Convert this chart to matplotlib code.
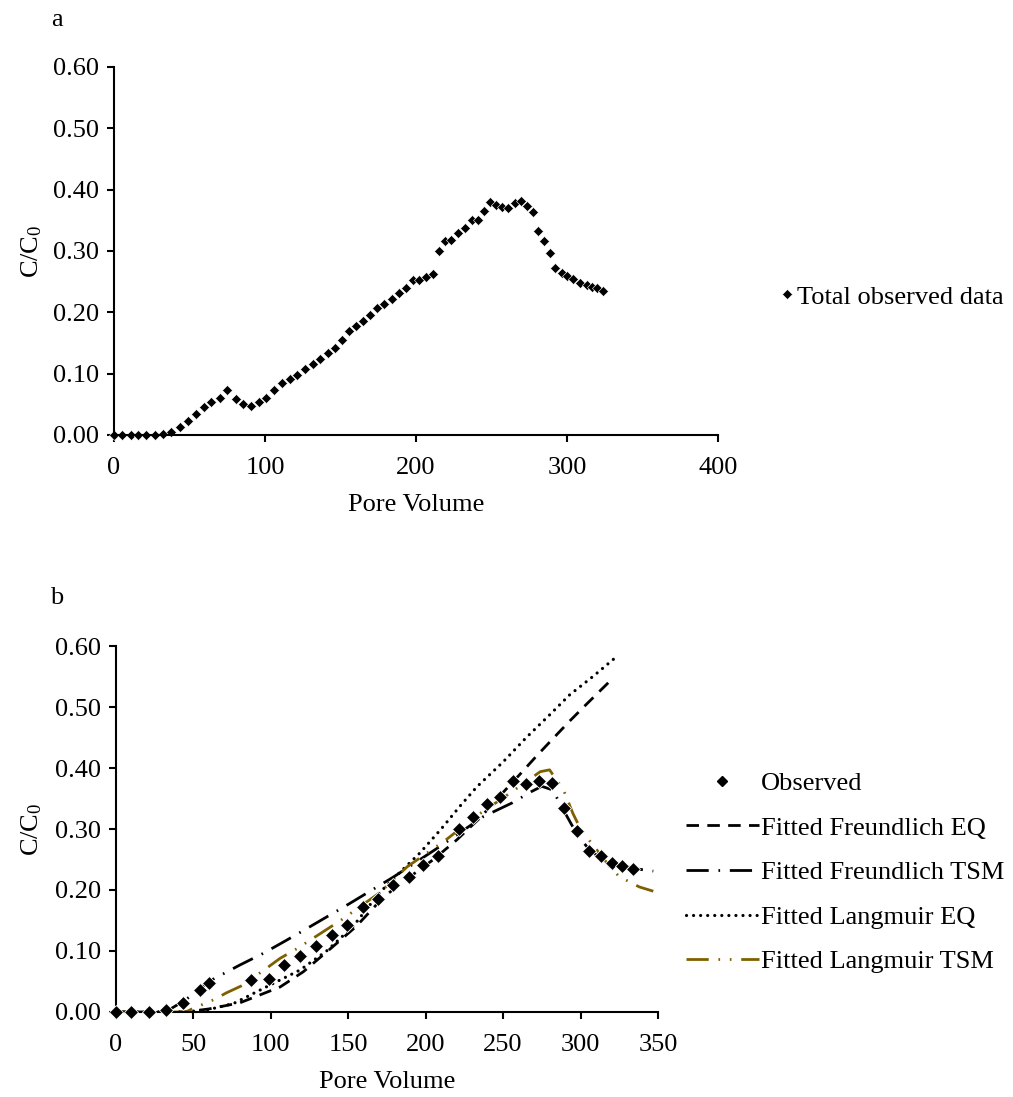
import matplotlib
matplotlib.use("Agg")
import matplotlib.pyplot as plt
from matplotlib.lines import Line2D

plt.rcParams['font.family'] = ['Liberation Serif', 'DejaVu Serif']
plt.rcParams['mathtext.fontset'] = 'custom'
plt.rcParams['mathtext.rm'] = 'Liberation Serif'
plt.rcParams['mathtext.it'] = 'Liberation Serif:italic'

# total observed breakthrough data (panel a)
pv_total = [0, 5.5, 11, 16, 21.5, 27, 32.5, 38, 43.5, 49, 54, 59.5, 64.5, 70, 75,
            80.5, 85.5, 90.5, 96, 101, 106, 111.5, 116.5, 121.5, 126.5, 131.5, 136.5,
            141.5, 146.5, 151, 155.5, 160.5, 165, 169.5, 174, 179, 184, 189, 193.5,
            198, 202, 206.5, 211, 215.5, 219.5, 223.5, 228, 232.5, 237, 241, 245, 249,
            253, 257, 261, 265.5, 269.5, 273.5, 277.5, 281, 285, 289, 292, 296.5, 300,
            304, 308.5, 313, 316.5, 320, 324]
cc_total = [0, 0, 0, 0, 0, 0, 0.001, 0.005, 0.0125, 0.023, 0.034, 0.045, 0.054, 0.061,
            0.074, 0.058, 0.051, 0.048, 0.053, 0.061, 0.074, 0.085, 0.091, 0.098, 0.107,
            0.115, 0.124, 0.133, 0.142, 0.155, 0.170, 0.177, 0.186, 0.195, 0.207, 0.214,
            0.221, 0.232, 0.240, 0.253, 0.253, 0.258, 0.262, 0.300, 0.317, 0.318, 0.329,
            0.338, 0.350, 0.350, 0.365, 0.380, 0.375, 0.371, 0.370, 0.378, 0.382, 0.373,
            0.364, 0.333, 0.316, 0.296, 0.273, 0.264, 0.259, 0.254, 0.247, 0.245, 0.242,
            0.239, 0.234]

# observed data used for fitting (panel b)
pv_obs = [0, 10, 21, 32, 43.5, 54.5, 60, 87.5, 98.5, 108.5, 119, 129, 139.5, 149.5,
          159.5, 169.5, 179, 189, 198.5, 208, 221.5, 230.5, 239.5, 248, 256.5, 265,
          273.5, 281.5, 289.5, 298, 305.5, 313, 320.5, 327, 334]
cc_obs = [0, 0, 0, 0.004, 0.014, 0.036, 0.047, 0.052, 0.054, 0.077, 0.092, 0.108, 0.126,
          0.143, 0.172, 0.186, 0.209, 0.222, 0.241, 0.255, 0.300, 0.319, 0.341, 0.353,
          0.379, 0.373, 0.379, 0.375, 0.334, 0.297, 0.264, 0.255, 0.245, 0.239, 0.235]

# fitted curves
pv_freu_eq = [0, 45, 60, 80, 95, 106, 121, 140, 155, 173, 190, 205, 220, 235, 250, 261,
              271, 281, 293, 304, 320]
cc_freu_eq = [0, 0, 0.005, 0.015, 0.030, 0.041, 0.066, 0.107, 0.140, 0.189, 0.222, 0.250,
              0.282, 0.318, 0.36, 0.39, 0.418, 0.445, 0.477, 0.505, 0.545]

pv_freu_tsm = [0, 32, 45, 60, 80, 95, 109, 120, 151, 179, 209, 237, 256, 268, 275, 282,
               289, 298, 307, 320, 335, 347]
cc_freu_tsm = [0, 0, 0.02, 0.05, 0.077, 0.096, 0.116, 0.132, 0.178, 0.221, 0.271, 0.32,
               0.343, 0.361, 0.37, 0.364, 0.331, 0.29, 0.262, 0.245, 0.235, 0.231]

pv_lang_eq = [0, 45, 60, 76, 97, 119, 136, 153, 170, 185, 196, 210, 222, 233, 250, 265,
              280, 293, 308, 323]
cc_lang_eq = [0, 0, 0.004, 0.014, 0.041, 0.069, 0.10, 0.14, 0.195, 0.233, 0.26, 0.30,
              0.337, 0.369, 0.41, 0.45, 0.487, 0.52, 0.55, 0.582]

pv_lang_tsm = [0, 45, 50, 64, 71, 82, 99, 106, 117, 145, 170, 188, 213, 232, 254, 274,
               280, 289, 295, 300, 307, 319, 325, 338, 347]
cc_lang_tsm = [0, 0, 0.006, 0.021, 0.031, 0.044, 0.075, 0.088, 0.104, 0.15, 0.195, 0.238,
               0.282, 0.32, 0.358, 0.394, 0.397, 0.364, 0.326, 0.30, 0.277, 0.238, 0.222,
               0.205, 0.198]

gold = '#7f6000'
fs = 19

fig = plt.figure(figsize=(10.13, 10.97), dpi=100)
ax1 = fig.add_axes([0.1125, 0.6035, 0.5963, 0.3355])
ax2 = fig.add_axes([0.1145, 0.0775, 0.535, 0.3336])


def style_axes(ax, xmax, xstep, ylab_x):
    ax.set_xlim(0, xmax)
    ax.set_ylim(0, 0.6)
    ax.set_xticks(range(0, xmax + 1, xstep))
    ax.set_yticks([0, 0.1, 0.2, 0.3, 0.4, 0.5, 0.6])
    ax.set_yticklabels(["%.2f" % v for v in ax.get_yticks()])
    for s in ['top', 'right']:
        ax.spines[s].set_visible(False)
    for s in ['left', 'bottom']:
        ax.spines[s].set_linewidth(1.5)
    ax.tick_params(direction='out', length=5, width=1.5, labelsize=fs)
    ax.tick_params(axis='x', pad=11)
    ax.tick_params(axis='y', pad=6)
    ax.set_xlabel('Pore Volume', fontsize=fs, labelpad=11)
    ax.set_ylabel('C/C$_0$', fontsize=fs)
    ax.yaxis.set_label_coords(ylab_x, 0.5)
    ax.set_facecolor('none')


# panel a
style_axes(ax1, 400, 100, -0.115)
ax1.plot(pv_total, cc_total, 'D', color='black', ms=5.2, mec='white', mew=0.4,
         clip_on=False, label='Total observed data')
ax1.legend(loc='center left', bbox_to_anchor=(0.771, 0.7293), bbox_transform=fig.transFigure,
           frameon=False, fontsize=fs, handlelength=0.45, handletextpad=0.15,
           borderpad=0, borderaxespad=0, markerscale=0.9)

# panel b
style_axes(ax2, 350, 50, -0.132)
lw = 2.0
ax2.plot(pv_freu_eq, cc_freu_eq, color='black', lw=lw, ls=(0, (4.5, 3)),
         label='Fitted Freundlich EQ', zorder=2)
ax2.plot(pv_freu_tsm, cc_freu_tsm, color='black', lw=lw, ls=(0, (8, 3.5, 0.6, 3.5)),
         label='Fitted Freundlich TSM', zorder=2)
ax2.plot(pv_lang_eq, cc_lang_eq, color='black', lw=2.3, ls=(0, (0.01, 2.2)),
         dash_capstyle='round', label='Fitted Langmuir EQ', zorder=2)
ax2.plot(pv_lang_tsm, cc_lang_tsm, color=gold, lw=lw, ls=(0, (8, 3.5, 0.6, 3.5, 0.6, 3.5)),
         label='Fitted Langmuir TSM', zorder=2)
ax2.plot(pv_obs, cc_obs, 'D', color='black', ms=7.5, mec='white', mew=0.6,
         clip_on=False, label='Observed', zorder=3)

handles, labels = ax2.get_legend_handles_labels()
order = [4, 0, 1, 2, 3]
leg_handles = [handles[i] for i in order]
leg_handles[0] = Line2D([], [], ls='none', marker='D', color='black', ms=5.5)
ax2.legend(leg_handles, [labels[i] for i in order], loc='center left',
           bbox_to_anchor=(0.677, 0.2046), bbox_transform=fig.transFigure,
           frameon=False, fontsize=fs, handlelength=2.77, handletextpad=0.08,
           labelspacing=0.8, borderpad=0, borderaxespad=0)

fig.text(0.056, 0.982, 'a', fontsize=fs, ha='center', va='center')
fig.text(0.056, 0.455, 'b', fontsize=fs, ha='center', va='center')

fig.savefig('out.png', dpi=100)
